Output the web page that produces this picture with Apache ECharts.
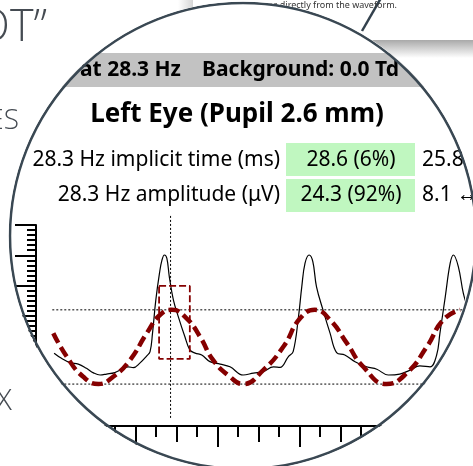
<!DOCTYPE html>
<html><head><meta charset="utf-8">
<script src="https://cdn.jsdelivr.net/npm/echarts@6/dist/echarts.min.js"></script>
<style>
html,body{margin:0;padding:0;background:#fff;overflow:hidden}
#bg,#fg{position:absolute;left:0;top:0;width:473px;height:466px}
#fg{clip-path:circle(234.6px at 243px 236px);}
</style></head><body>
<div id="bg"></div><div id="fg"></div>
<script>
// ---- data ----
const waveTimeMs = [0.2,2.0,4.1,6.1,8.1,9.8,11.4,13.0,15.0,16.7,18.3,19.5,21.1,22.8,23.6,24.2,25.0,25.9,26.5,27.1,27.7,28.3,29.3,30.5,32.1,33.3,34.6,36.2,38.2,40.7,43.1,46.3,48.8,51.2,53.7,55.3,57.3,58.5,59.8,60.6,61.4,62.4,63.3,64.2,65.9,67.5,69.1,71.1,73.6,76.4,78.9,81.7,84.5,87.0,89.4,91.9,93.5,94.3,95.6,96.8,97.6,98.8,100.0,101.0];
const waveUv = [-2.3,-4.0,-5.4,-5.9,-7.3,-8.8,-9.5,-9.2,-8.7,-7.6,-6.8,-7.1,-5.6,-3.2,-1.8,4.3,15.2,24.1,28.4,30.1,29.0,22.9,15.2,9.7,3.1,-1.2,-2.3,-2.9,-5.1,-5.9,-6.8,-9.5,-8.9,-8.4,-6.8,-7.0,-3.5,-1.8,9.7,19.6,27.4,30.1,27.9,19.6,11.4,4.3,-2.1,-2.9,-5.1,-6.8,-7.6,-9.5,-9.2,-7.9,-6.5,-6.8,-2.9,4.3,16.3,27.4,30.1,26.2,17.5,13.0];
const fitTimeMs = [0.0,3.3,7.3,11.0,14.6,18.7,22.8,26.0,28.9,32.5,35.8,39.0,43.1,46.3,51.2,56.1,60.2,63.8,67.5,71.6,75.6,81.3,86.2,91.1,95.1,99.2];
const fitUv = [4.3,-3.5,-10.1,-12.5,-10.1,-4.6,4.3,10.3,12.0,9.2,3.1,-4.6,-10.1,-12.5,-7.9,-0.2,9.2,12.0,8.7,1.0,-6.8,-12.5,-8.9,-0.2,8.7,12.0];
const peakUv = 12.0;
const troughUv = -12.5;
const levelStartMs = -2.2;
const levelEndMs = 110;
const implicitTimeMs = 28.6;
const cursorUv = [43, -23.7];
const windowMs = [25.8, 33.3];
const windowUv = [-4.2, 19.9];
const xRange = [0, 100], xMajor = 20, xMid = 10;
const yRange = [-30, 40], yMajor = 10;

const headerLeft = 'at 28.3 Hz';
const headerRight = 'Background: 0.0 Td';
const title = 'Left Eye (Pupil 2.6 mm)';
const rowLabels = ['28.3 Hz implicit time (ms)', '28.3 Hz amplitude (\u03bcV)'];
const rowValues = ['28.6 (6%)', '24.3 (92%)'];
const rowRefs = ['25.8', '8.1 \u2194'];
const bgWords = ['OT\u201d', 'ES', 'X'];
const noteText = 'es directly from the waveform.';

// ---- helpers ----
const F = 'Noto Sans';
function txt(x, y, text, size, opt) {
  opt = opt || {};
  return {type:'text', x:x, y:y, z: opt.z || 10, style:{
    text:text, fontSize:size, fontFamily: opt.family || F, fontWeight: opt.weight || 'normal',
    fill: opt.fill || '#000', textAlign: opt.align || 'left', align: opt.align || 'left',
    textVerticalAlign:'middle', verticalAlign:'middle'}};
}

// ---- background (outside the magnifier) ----
const bg = echarts.init(document.getElementById('bg'), null, {renderer:'canvas'});
bg.setOption({
  backgroundColor:'#fff',
  graphic:[
    {type:'rect', shape:{x:178,y:0,width:15,height:40}, style:{fill:new echarts.graphic.LinearGradient(0,0,1,0,[{offset:0,color:'#ffffff'},{offset:1,color:'#d6d6d6'}])}},
    {type:'rect', shape:{x:193,y:40,width:290,height:18}, style:{fill:new echarts.graphic.LinearGradient(0,0,0,1,[{offset:0,color:'#a9a9a9'},{offset:1,color:'#ffffff'}])}},
    txt(47, 28, bgWords[0], 45, {family:'Open Sans', weight:300, fill:'#454b52', align:'right'}),
    txt(19, 121, bgWords[1], 28, {family:'Open Sans', weight:300, fill:'#454b52', align:'right'}),
    txt(12, 401, bgWords[2], 30, {family:'Open Sans', weight:300, fill:'#454b52', align:'right'}),
    txt(397, 5, noteText, 9, {fill:'#333', align:'right'}),
    {type:'line', shape:{x1:381,y1:-2,x2:362,y2:31}, style:{stroke:'#33414d', lineWidth:2.5}}
  ]
});

// ---- magnified view ----
const PXMS = 4.1, X0 = 53.3, PXUV = 3.03, TOP = 225;
const gridRight = 473 - (X0 + (xRange[1] - xRange[0]) * PXMS);
const gridBottom = 466 - (TOP + (yRange[1] - yRange[0]) * PXUV);
const yAxisX = 36, xAxisY = 426;
const gridBottomY = 466 - gridBottom;

const fg = echarts.init(document.getElementById('fg'), null, {renderer:'canvas'});
const zip = (a, b) => a.map((v, i) => [v, b[i]]);
fg.setOption({
  backgroundColor:'#fff',
  animation:false,
  grid:{left:X0, top:TOP, right:gridRight, bottom:gridBottom, containLabel:false, outerBoundsMode:'none'},
  xAxis:[
    {type:'value', min:xRange[0], max:xRange[1], interval:xMajor, position:'bottom', offset:xAxisY - gridBottomY,
     axisLine:{show:true, onZero:false, lineStyle:{color:'#000', width:2}}, axisLabel:{show:false}, splitLine:{show:false},
     axisTick:{show:true, length:21, lineStyle:{color:'#000', width:2}},
     minorTick:{show:true, splitNumber:4, length:11, lineStyle:{color:'#000', width:2}}},
    {type:'value', min:xRange[0], max:xRange[1], interval:xMid, position:'bottom', offset:xAxisY - gridBottomY,
     axisLine:{show:false, onZero:false}, axisLabel:{show:false}, splitLine:{show:false},
     axisTick:{show:true, length:16, lineStyle:{color:'#000', width:2}}}
  ],
  yAxis:{type:'value', min:yRange[0], max:yRange[1], interval:yMajor, position:'left', offset:X0 - yAxisX,
     axisLine:{show:true, onZero:false, lineStyle:{color:'#000', width:2}}, axisLabel:{show:false}, splitLine:{show:false},
     axisTick:{show:true, length:21, lineStyle:{color:'#000', width:2}},
     minorTick:{show:true, splitNumber:6, length:9, lineStyle:{color:'#000', width:2}}},
  series:[
    {type:'line', data:[[levelStartMs, peakUv],[levelEndMs, peakUv]], symbol:'none', clip:false, silent:true,
     lineStyle:{color:'#000', width:1, type:[2,2]}},
    {type:'line', data:[[levelStartMs, troughUv],[levelEndMs, troughUv]], symbol:'none', clip:false, silent:true,
     lineStyle:{color:'#000', width:1, type:[2,2]}},
    {type:'line', data:[[implicitTimeMs, cursorUv[0]],[implicitTimeMs, cursorUv[1]]], symbol:'none', clip:false, silent:true,
     lineStyle:{color:'#000', width:1, type:[2,2]}},
    {type:'line', data:zip(waveTimeMs, waveUv), symbol:'none', smooth:0.4, clip:false, silent:true,
     lineStyle:{color:'#000', width:1.2}},
    {type:'line', data:zip(fitTimeMs, fitUv), symbol:'none', smooth:0.5, clip:false, silent:true,
     lineStyle:{color:'#850000', width:4.5, type:[11,5]}},
    {type:'line', data:[[windowMs[0],windowUv[1]],[windowMs[1],windowUv[1]],[windowMs[1],windowUv[0]],[windowMs[0],windowUv[0]],[windowMs[0],windowUv[1]]],
     symbol:'none', silent:true, lineStyle:{color:'#850000', width:1.8, type:[7,3]}}
  ],
  graphic:[
    {type:'rect', shape:{x:0,y:53,width:473,height:34}, style:{fill:'#c2c2c2'}},
    txt(80, 70, headerLeft, 21, {weight:'bold'}),
    txt(202, 70, headerRight, 21, {weight:'bold'}),
    txt(237, 115, title, 26, {weight:'bold', align:'center'}),
    {type:'rect', shape:{x:286,y:143,width:129,height:33}, style:{fill:'#c0f7c0'}},
    {type:'rect', shape:{x:286,y:179,width:129,height:33}, style:{fill:'#c0f7c0'}},
    txt(280, 160, rowLabels[0], 21, {align:'right'}),
    txt(280, 195, rowLabels[1], 21, {align:'right'}),
    txt(351, 160, rowValues[0], 21, {align:'center'}),
    txt(351, 195, rowValues[1], 21, {align:'center'}),
    txt(422, 160, rowRefs[0], 21),
    txt(422, 195, rowRefs[1], 21),
    {type:'circle', z:100, shape:{cx:243, cy:236, r:233}, style:{fill:null, stroke:'#3a4853', lineWidth:2.5}}
  ]
});
</script></body></html>
